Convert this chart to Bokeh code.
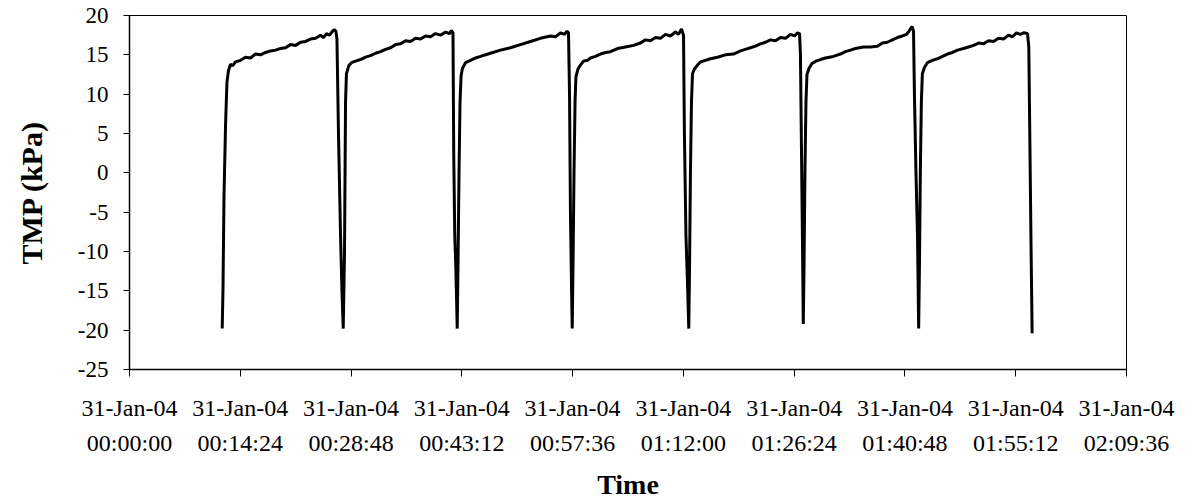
from bokeh.plotting import figure
from bokeh.models import Range1d, FixedTicker, LinearAxis
from bokeh.embed import file_html
from bokeh.resources import INLINE

# ---- data: time in seconds from 31-Jan-04 00:00:00, TMP in kPa ----
cycle1_t = [723, 729, 737, 749, 760, 772, 788, 803, 827, 866, 905, 944, 983, 1022, 1061, 1100,
            1139, 1178, 1217, 1256, 1295, 1334, 1373, 1412, 1451, 1490, 1513, 1537, 1560, 1583,
            1599, 1610, 1618, 1630, 1646, 1657]
cycle1_v = [-19.8, -15.0, -3.0, 6.0, 11.5, 13.0, 13.8, 13.6, 14.1, 14.3, 14.7, 14.6, 15.1, 15.0,
            15.3, 15.5, 15.6, 15.8, 15.9, 16.3, 16.2, 16.6, 16.7, 17.0, 17.1, 17.5, 17.2, 17.7,
            17.5, 18.0, 18.2, 18.0, 17.0, 5.0, -8.0, -15.0]

cycle2_t = [1667, 1673, 1677, 1685, 1692, 1710, 1731, 1763, 1802, 1841, 1880, 1919, 1958, 1997,
            2036, 2075, 2114, 2153, 2192, 2231, 2270, 2309, 2348, 2387, 2426, 2465, 2496, 2511,
            2523, 2529, 2537, 2545, 2551]
cycle2_v = [-19.8, -14.0, -10.0, 9.0, 12.6, 13.6, 14.0, 14.2, 14.4, 14.7, 14.9, 15.2, 15.4, 15.7,
            15.9, 16.3, 16.4, 16.8, 16.7, 17.1, 17.0, 17.4, 17.3, 17.7, 17.5, 17.9, 17.7, 18.1,
            17.8, 2.0, -8.0, -12.0, -16.0]

cycle3_t = [2556, 2562, 2570, 2578, 2586, 2597, 2621, 2660, 2699, 2738, 2815, 2893, 2971, 3049,
            3127, 3205, 3283, 3322, 3361, 3393, 3412, 3424, 3432, 3439, 3447]
cycle3_v = [-19.8, -12.0, 0.0, 9.0, 12.3, 13.3, 14.0, 14.3, 14.6, 14.8, 15.2, 15.6, 15.9, 16.3,
            16.7, 17.1, 17.4, 17.3, 17.8, 17.6, 18.0, 17.8, 10.0, -5.0, -14.0]

cycle4_t = [3453, 3459, 3467, 3475, 3482, 3498, 3517, 3541, 3572, 3595, 3634, 3673, 3712, 3751,
            3806, 3868, 3931, 3985, 4024, 4063, 4102, 4141, 4180, 4219, 4258, 4282, 4305, 4321,
            4328, 4340, 4352]
cycle4_v = [-19.8, -12.0, 0.0, 9.0, 12.2, 13.2, 13.7, 14.2, 14.3, 14.6, 14.8, 15.1, 15.3, 15.4,
            15.8, 16.0, 16.2, 16.5, 16.9, 16.8, 17.2, 17.1, 17.6, 17.4, 17.9, 17.6, 18.3, 17.5,
            5.0, -8.0, -14.0]

cycle5_t = [4362, 4368, 4375, 4383, 4391, 4406, 4430, 4453, 4492, 4531, 4586, 4648, 4711, 4765,
            4804, 4843, 4882, 4921, 4960, 4999, 5038, 5077, 5116, 5155, 5187, 5210, 5226, 5233,
            5241, 5249]
cycle5_v = [-19.8, -12.0, 0.0, 9.0, 12.6, 13.2, 13.7, 14.1, 14.3, 14.5, 14.7, 15.0, 15.1, 15.5,
            15.7, 15.9, 16.1, 16.4, 16.6, 16.9, 16.8, 17.2, 17.1, 17.6, 17.4, 17.8, 17.7, 15.0,
            3.0, -9.0]

cycle6_t = [5255, 5261, 5268, 5276, 5284, 5300, 5323, 5354, 5389, 5428, 5490, 5545, 5584, 5623,
            5662, 5724, 5779, 5833, 5872, 5911, 5950, 5989, 6028, 6060, 6075, 6091, 6103, 6115,
            6122, 6134, 6146]
cycle6_v = [-19.2, -12.0, 0.0, 9.0, 12.5, 13.3, 13.9, 14.2, 14.4, 14.6, 14.8, 15.1, 15.4, 15.6,
            15.8, 16.0, 16.0, 16.1, 16.5, 16.6, 16.9, 17.2, 17.4, 17.6, 17.9, 18.3, 18.6, 18.0,
            10.0, 0.0, -8.0]

cycle7_t = [6155, 6161, 6168, 6176, 6184, 6200, 6223, 6262, 6301, 6341, 6380, 6419, 6458, 6505,
            6544, 6583, 6622, 6661, 6700, 6739, 6778, 6817, 6856, 6887, 6918, 6949, 6973, 7004,
            7014, 7023, 7032, 7040]
cycle7_v = [-19.8, -12.0, 0.0, 9.0, 12.6, 13.4, 14.0, 14.3, 14.5, 14.8, 15.1, 15.3, 15.6, 15.8,
            16.0, 16.2, 16.5, 16.4, 16.8, 16.7, 17.1, 17.0, 17.5, 17.3, 17.8, 17.6, 17.8, 17.7,
            16.0, 3.0, -10.0, -20.4]

tick_seconds = [0, 864, 1728, 2592, 3456, 4320, 5184, 6048, 6912, 7776]
date_labels = ["31-Jan-04", "31-Jan-04", "31-Jan-04", "31-Jan-04", "31-Jan-04",
               "31-Jan-04", "31-Jan-04", "31-Jan-04", "31-Jan-04", "31-Jan-04"]
time_labels = ["00:00:00", "00:14:24", "00:28:48", "00:43:12", "00:57:36",
               "01:12:00", "01:26:24", "01:40:48", "01:55:12", "02:09:36"]
y_ticks = [-25, -20, -15, -10, -5, 0, 5, 10, 15, 20]
y_tick_labels = ["-25", "-20", "-15", "-10", "-5", "0", "5", "10", "15", "20"]

t = cycle1_t + cycle2_t + cycle3_t + cycle4_t + cycle5_t + cycle6_t + cycle7_t
v = cycle1_v + cycle2_v + cycle3_v + cycle4_v + cycle5_v + cycle6_v + cycle7_v

FONT = "Liberation Serif"

p = figure(width=1193, height=503, output_backend="svg", toolbar_location=None,
           x_range=Range1d(0, 7776), y_range=Range1d(-25, 20),
           min_border_left=129, min_border_right=67, min_border_top=15, min_border_bottom=134)
p.grid.visible = False
p.background_fill_color = "white"
p.border_fill_color = "white"
p.outline_line_color = "black"
p.outline_line_width = 1

p.line(t, v, color="black", line_width=3)

ya = p.yaxis[0]
ya.ticker = FixedTicker(ticks=y_ticks)
ya.major_label_overrides = {k: s for k, s in zip(y_ticks, y_tick_labels)}
ya.major_tick_in = 0
ya.major_tick_out = 6
ya.minor_tick_line_color = None
ya.axis_line_color = "black"
ya.axis_line_width = 1.5
ya.major_tick_line_color = "black"
ya.major_label_standoff = 15
ya.major_label_text_font = FONT
ya.major_label_text_font_size = "23px"
ya.major_label_text_color = "black"
ya.axis_label = "TMP (kPa)"
ya.axis_label_text_font = FONT
ya.axis_label_text_font_style = "bold"
ya.axis_label_text_font_size = "30px"
ya.axis_label_text_color = "black"
ya.axis_label_standoff = 27

xa = p.xaxis[0]
xa.ticker = FixedTicker(ticks=tick_seconds)
xa.major_label_overrides = {s: d for s, d in zip(tick_seconds, date_labels)}
xa.major_tick_in = 0
xa.major_tick_out = 7
xa.minor_tick_line_color = None
xa.axis_line_color = "black"
xa.axis_line_width = 1.5
xa.major_label_standoff = 18
xa.major_label_text_font = FONT
xa.major_label_text_font_size = "24px"
xa.major_label_text_color = "black"

xa2 = LinearAxis(ticker=FixedTicker(ticks=tick_seconds),
                 major_label_overrides={s: tl for s, tl in zip(tick_seconds, time_labels)})
xa2.axis_line_color = None
xa2.major_tick_line_color = None
xa2.minor_tick_line_color = None
xa2.major_tick_in = 0
xa2.major_tick_out = 0
xa2.minor_tick_out = 0
xa2.major_label_standoff = 6
xa2.major_label_text_font = FONT
xa2.major_label_text_font_size = "24px"
xa2.major_label_text_color = "black"
xa2.axis_label = "Time"
xa2.axis_label_text_font = FONT
xa2.axis_label_text_font_style = "bold"
xa2.axis_label_text_font_size = "28px"
xa2.axis_label_text_color = "black"
xa2.axis_label_standoff = 10
p.add_layout(xa2, "below")

open("out.html", "w").write(file_html(p, INLINE))
